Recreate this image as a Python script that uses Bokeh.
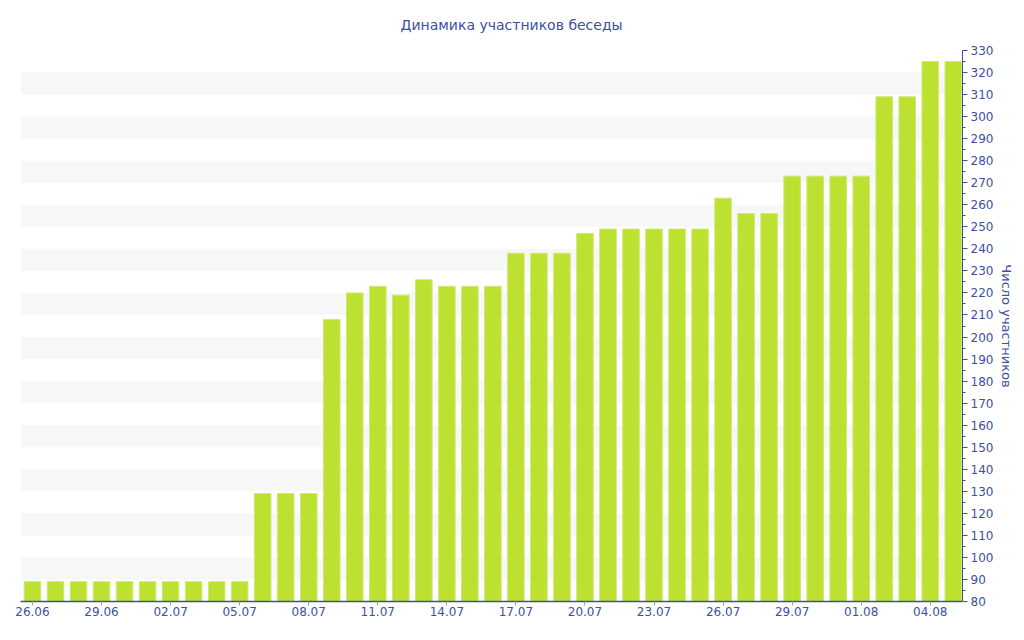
from bokeh.plotting import figure
from bokeh.models import FixedTicker, Range1d
from bokeh.embed import file_html
from bokeh.resources import INLINE

dates = ["26.06", "27.06", "28.06", "29.06", "30.06",
         "01.07", "02.07", "03.07", "04.07", "05.07", "06.07", "07.07", "08.07",
         "09.07", "10.07", "11.07", "12.07", "13.07", "14.07", "15.07", "16.07",
         "17.07", "18.07", "19.07", "20.07", "21.07", "22.07", "23.07", "24.07",
         "25.07", "26.07", "27.07", "28.07", "29.07", "30.07", "31.07",
         "01.08", "02.08", "03.08", "04.08", "05.08"]
members = [89, 89, 89, 89, 89,
           89, 89, 89, 89, 89, 129, 129, 129,
           208, 220, 223, 219, 226, 223, 223, 223,
           238, 238, 238, 247, 249, 249, 249, 249,
           249, 263, 256, 256, 273, 273, 273,
           273, 309, 309, 325, 325]
y_ticks = list(range(80, 331, 10))
label_every = 3
title_text = "Динамика участников беседы"

TXT = "#3d4f9f"
FONT = "DejaVu Sans"

idx = list(range(len(dates)))

p = figure(frame_width=942, frame_height=551,
           x_range=Range1d(-0.52, len(dates) - 0.6),
           y_range=Range1d(80, 330),
           output_backend="svg", toolbar_location=None,
           y_axis_location="right", x_axis_location="below",
           min_border_left=20, min_border_top=50, min_border_bottom=10,
           min_border_right=2, outline_line_color=None,
           title=title_text)

p.title.align = "left"
p.title.offset = 380
p.title.vertical_align = "top"
p.title.text_font = FONT
p.title.text_font_style = "normal"
p.title.text_font_size = "14px"
p.title.text_color = TXT
p.title.standoff = 31

p.vbar(x=idx, top=members, bottom=80, width=0.72,
       fill_color="#bde130", line_color="#cfe877", line_width=1)

# grid bands
p.xgrid.grid_line_color = None
p.ygrid.grid_line_color = None
p.ygrid.ticker = FixedTicker(ticks=y_ticks)
p.ygrid.band_fill_color = "#f7f7f7"
p.ygrid.band_fill_alpha = 1.0

# y axis (right)
ya = p.yaxis[0]
ya.ticker = FixedTicker(ticks=y_ticks, minor_ticks=list(range(85, 330, 10)))
ya.axis_line_color = TXT
ya.major_tick_line_color = TXT
ya.minor_tick_line_color = TXT
ya.major_tick_out = 5
ya.major_tick_in = 0
ya.minor_tick_out = 3
ya.minor_tick_in = 0
ya.major_label_text_color = TXT
ya.major_label_text_font = FONT
ya.major_label_text_font_size = "12px"
ya.major_label_standoff = 3
ya.axis_label = "Число участников"
ya.axis_label_text_font = FONT
ya.axis_label_text_font_size = "13px"
ya.axis_label_text_font_style = "normal"
ya.axis_label_text_color = TXT
ya.axis_label_standoff = 3

# x axis
xa = p.xaxis[0]
xt = idx[::label_every]
xa.ticker = FixedTicker(ticks=xt, minor_ticks=[])
xa.major_label_overrides = {i: dates[i] for i in xt}
xa.axis_line_color = TXT
xa.axis_line_width = 1.5
xa.major_tick_line_color = "#a0a0a0"
xa.major_tick_out = 4
xa.major_tick_in = 0
xa.minor_tick_line_color = None
xa.major_label_text_color = TXT
xa.major_label_text_font = FONT
xa.major_label_text_font_size = "12px"
xa.major_label_standoff = 1

open("out.html", "w").write(file_html(p, INLINE))
